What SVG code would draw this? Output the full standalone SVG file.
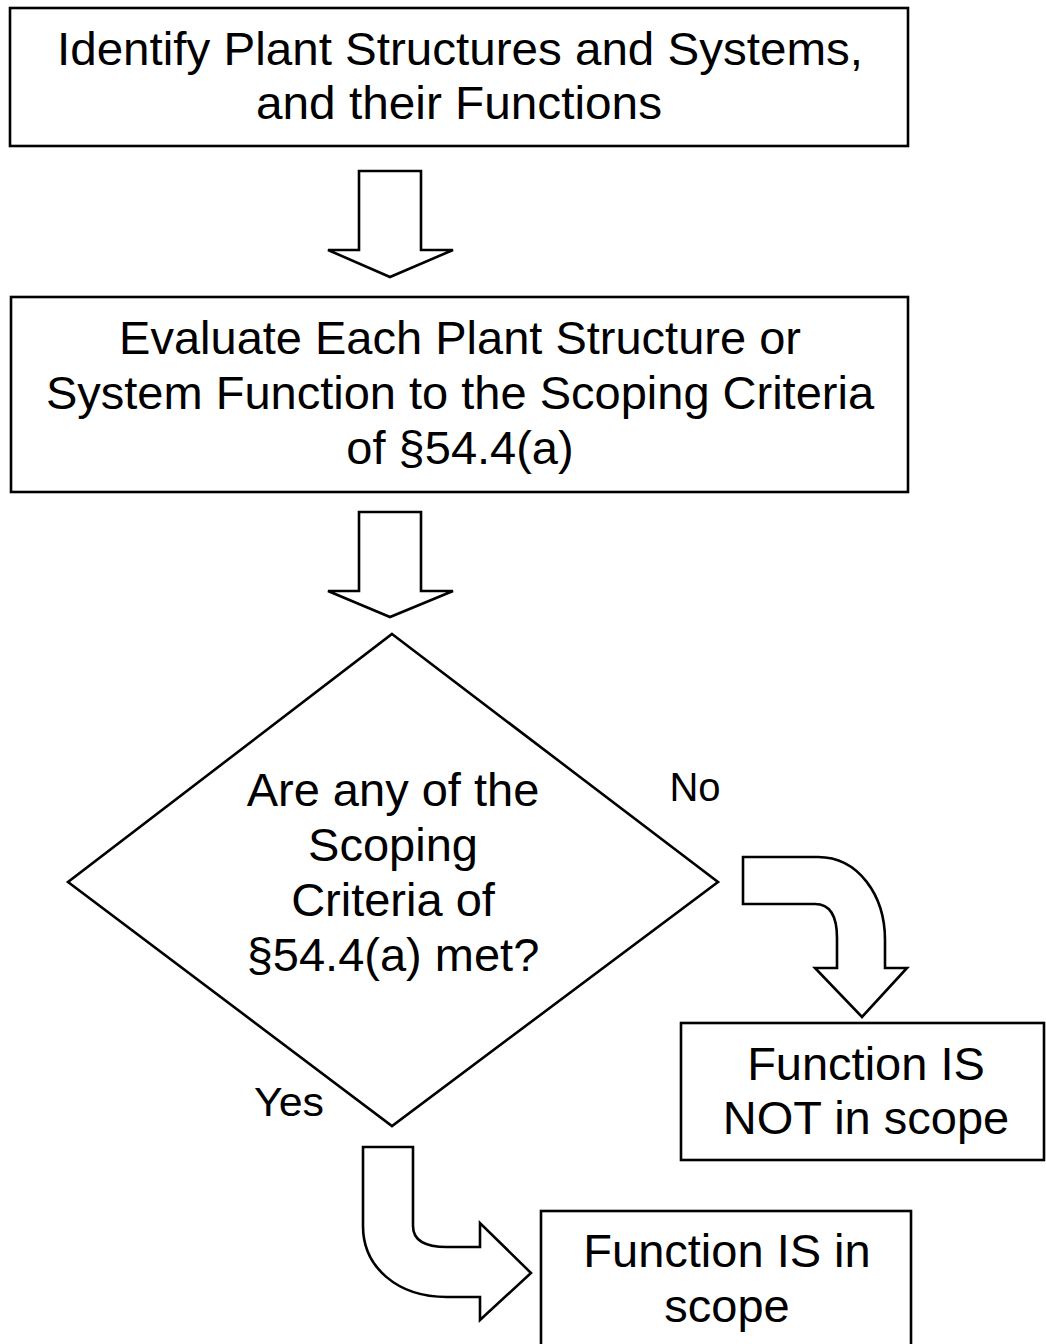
<svg xmlns="http://www.w3.org/2000/svg" width="1046" height="1344" viewBox="0 0 1046 1344">
<style>
.shape{fill:#fff;stroke:#000;stroke-width:2.6;stroke-linejoin:miter}
.t{font-family:"Liberation Sans",Arial,sans-serif;font-size:47px;fill:#000;text-anchor:middle}
.lbl{font-family:"Liberation Sans",Arial,sans-serif;font-size:40px;fill:#000;text-anchor:middle}
</style>
<rect width="1046" height="1344" fill="#fff"/>
<g id="connectors">
<path class="shape" d="M359,171 L421,171 L421,250 L453,250 L390,277 L328,250 L359,250 Z"/>
<path class="shape" d="M359,512 L421,512 L421,591 L453,591 L390,617 L328,591 L359,591 Z"/>
<path class="shape" d="M743,857 L818,857 C858,857 885,895 885,940 L885,968 L907,968 L862,1017 L815,968 L837,968 L837,938 C837,916 830,904 815,904 L743,904 Z"/>
<path class="shape" d="M363,1147 L413,1147 L413,1226 C413,1240 425,1247 447,1247 L480,1247 L480,1223 L531,1273 L480,1320 L480,1297 L447,1297 C397,1297 363,1267 363,1226 Z"/>
<text class="lbl" x="695" y="801">No</text>
<text class="lbl" x="289" y="1116" textLength="70" lengthAdjust="spacingAndGlyphs">Yes</text>
</g>
<g id="identify">
<rect class="shape" x="10" y="8" width="898" height="138"/>
<text class="t" x="460" y="65" textLength="806" lengthAdjust="spacingAndGlyphs">Identify Plant Structures and Systems,</text>
<text class="t" x="459" y="119" textLength="406" lengthAdjust="spacingAndGlyphs">and their Functions</text>
</g>
<g id="evaluate">
<rect class="shape" x="11" y="297" width="897" height="195"/>
<text class="t" x="460" y="354">Evaluate Each Plant Structure or</text>
<text class="t" x="460" y="409">System Function to the Scoping Criteria</text>
<text class="t" x="460" y="464">of §54.4(a)</text>
</g>
<g id="decision">
<path class="shape" d="M392,634 L718,882 L392,1126 L68,882 Z"/>
<text class="t" x="393" y="806">Are any of the</text>
<text class="t" x="393" y="861">Scoping</text>
<text class="t" x="393" y="916">Criteria of</text>
<text class="t" x="393" y="971">§54.4(a) met?</text>
</g>
<g id="not-in-scope">
<rect class="shape" x="681" y="1023" width="363" height="137"/>
<text class="t" x="866" y="1080">Function IS</text>
<text class="t" x="866" y="1134">NOT in scope</text>
</g>
<g id="in-scope">
<rect class="shape" x="541" y="1211" width="370" height="140"/>
<text class="t" x="727" y="1267">Function IS in</text>
<text class="t" x="727" y="1322">scope</text>
</g>
</svg>
